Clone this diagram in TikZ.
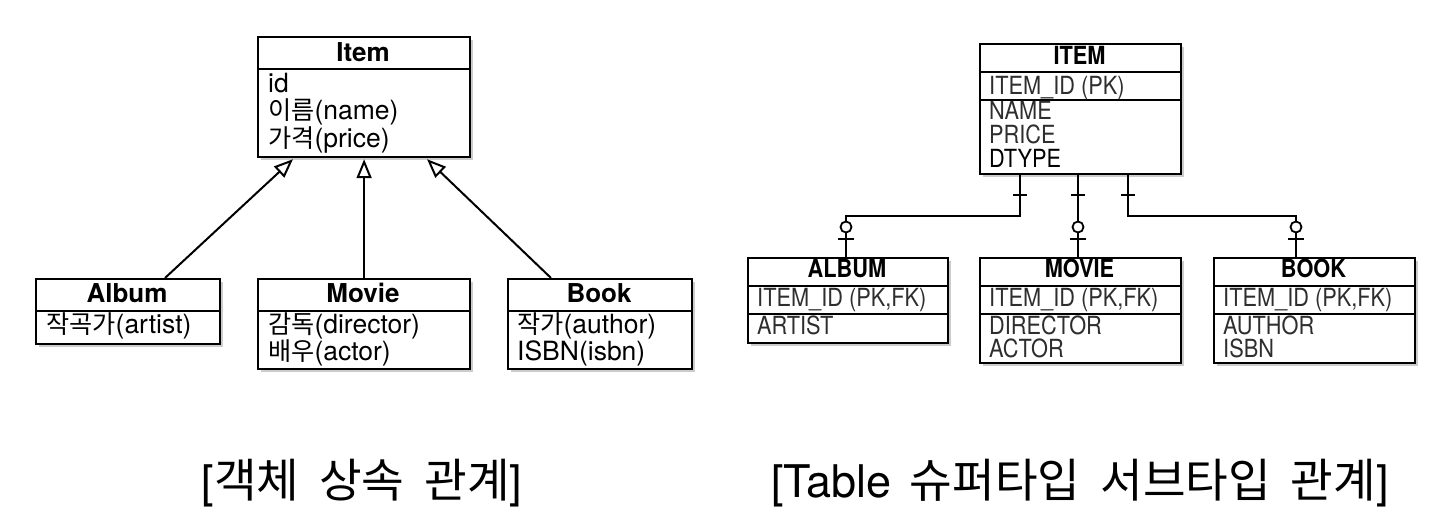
\documentclass[tikz,border=0pt]{standalone}
\usepackage{fontspec}
\setmainfont{TeX Gyre Heros}
\newfontfamily\kr[Scale=0.95]{Noto Sans CJK KR}
\newfontfamily\krc[Scale=1.03]{Noto Sans CJK KR}
\newfontfamily\erf[FakeStretch=0.87]{TeX Gyre Heros}
\usetikzlibrary{arrows.meta,shadows,calc}
\tikzset{
 box/.style={draw=black, line width=2.2pt, fill=white, anchor=north west, inner sep=0pt,
   drop shadow={shadow xshift=2.5pt, shadow yshift=-2.5pt, opacity=0.4, fill=black!50}},
 sepl/.style={line width=2.2pt},
 ttl/.style={font=\fontsize{26}{30}\selectfont\bfseries, anchor=base, inner sep=0pt},
 attr/.style={font=\fontsize{26.5}{28}\selectfont, anchor=base west, inner sep=0pt},
 ertl/.style={font=\erf\fontsize{25}{28}\selectfont\bfseries, anchor=base, inner sep=0pt},
 erat/.style={font=\erf\fontsize{25}{28}\selectfont, text=black!82, anchor=base west, inner sep=0pt},
 inh/.style={line width=2pt, -{Triangle[open, length=19pt, width=15pt, line width=2pt]}},
 rel/.style={line width=2pt},
 capt/.style={font=\fontsize{45}{50}\selectfont, anchor=base, inner sep=0pt}
}
\begin{document}
\begin{tikzpicture}[x=1pt,y=-1pt]
\useasboundingbox[fill=white] (0,0) rectangle (1449,526);

% ---------- left: object inheritance ----------
\node[box, minimum width=212pt, minimum height=120pt] (item) at (257,36) {};
\draw[sepl] ($(item.north west)+(0,33)$) -- ($(item.north east)+(0,33)$);
\node[ttl] (itemT) at (363,62) {Item};
\node[attr] (itemA1) at (268,93) {id};
\node[attr] (itemA2) at (268,120) {{\kr 이름}(name)};
\node[attr] (itemA3) at (268,148) {{\kr 가격}(price)};

\node[box, minimum width=184pt, minimum height=65pt] (album) at (35,278) {};
\draw[sepl] ($(album.north west)+(0,33)$) -- ($(album.north east)+(0,33)$);
\node[ttl] (albumT) at (127,303) {Album};
\node[attr] (albumA1) at (46,334) {{\kr 작곡가}(artist)};

\node[box, minimum width=212pt, minimum height=90pt] (movie) at (257,278) {};
\draw[sepl] ($(movie.north west)+(0,33)$) -- ($(movie.north east)+(0,33)$);
\node[ttl] (movieT) at (363,303) {Movie};
\node[attr] (movieA1) at (268,334) {{\kr 감독}(director)};
\node[attr] (movieA2) at (268,361) {{\kr 배우}(actor)};

\node[box, minimum width=184pt, minimum height=90pt] (book) at (507,278) {};
\draw[sepl] ($(book.north west)+(0,33)$) -- ($(book.north east)+(0,33)$);
\node[ttl] (bookT) at (599,303) {Book};
\node[attr] (bookA1) at (517,334) {{\kr 작가}(author)};
\node[attr] (bookA2) at (517,361) {ISBN(isbn)};

\draw[inh] ($(album.north west)+(130,0)$) -- ($(item.south west)+(36,1)$);
\draw[inh] (movie.north) -- ($(item.south)+(0,1)$);
\draw[inh] ($(book.north west)+(44,0)$) -- ($(item.south west)+(170,1)$);

% ---------- right: table super/sub type ----------
\node[box, minimum width=201pt, minimum height=130pt] (eitem) at (979,43) {};
\draw[sepl] ($(eitem.north west)+(0,29)$) -- ($(eitem.north east)+(0,29)$);
\draw[sepl] ($(eitem.north west)+(0,57)$) -- ($(eitem.north east)+(0,57)$);
\node[ertl] (eitemT) at (1079.5,65) {ITEM};
\node[erat] (eitemA1) at (989,95) {ITEM\_ID (PK)};
\node[erat] (eitemA2) at (989,120) {NAME};
\node[erat] (eitemA3) at (989,144) {PRICE};
\node[erat, text=black] (eitemA4) at (989,168) {DTYPE};

\node[box, minimum width=200pt, minimum height=85pt] (ealbum) at (747,257) {};
\draw[sepl] ($(ealbum.north west)+(0,29)$) -- ($(ealbum.north east)+(0,29)$);
\draw[sepl] ($(ealbum.north west)+(0,57)$) -- ($(ealbum.north east)+(0,57)$);
\node[ertl] (ealbumT) at (847,278) {ALBUM};
\node[erat] (ealbumA1) at (757,307) {ITEM\_ID (PK,FK)};
\node[erat] (ealbumA2) at (757,335) {ARTIST};

\node[box, minimum width=201pt, minimum height=105pt] (emovie) at (979,257) {};
\draw[sepl] ($(emovie.north west)+(0,29)$) -- ($(emovie.north east)+(0,29)$);
\draw[sepl] ($(emovie.north west)+(0,57)$) -- ($(emovie.north east)+(0,57)$);
\node[ertl] (emovieT) at (1079.5,278) {MOVIE};
\node[erat] (emovieA1) at (989,307) {ITEM\_ID (PK,FK)};
\node[erat] (emovieA2) at (989,335) {DIRECTOR};
\node[erat] (emovieA3) at (989,358) {ACTOR};

\node[box, minimum width=201pt, minimum height=105pt] (ebook) at (1213,257) {};
\draw[sepl] ($(ebook.north west)+(0,29)$) -- ($(ebook.north east)+(0,29)$);
\draw[sepl] ($(ebook.north west)+(0,57)$) -- ($(ebook.north east)+(0,57)$);
\node[ertl] (ebookT) at (1313.5,278) {BOOK};
\node[erat] (ebookA1) at (1223,307) {ITEM\_ID (PK,FK)};
\node[erat] (ebookA2) at (1223,335) {AUTHOR};
\node[erat] (ebookA3) at (1223,358) {ISBN};

% connector end points
\coordinate (pA) at ($(eitem.south west)+(41,0)$);
\coordinate (pM) at ($(eitem.south west)+(99,0)$);
\coordinate (pB) at ($(eitem.south west)+(149,0)$);
\coordinate (cA) at ($(ealbum.north west)+(99,0)$);
\coordinate (cM) at ($(emovie.north west)+(99,0)$);
\coordinate (cB) at ($(ebook.north west)+(83,0)$);

\draw[rel] (pA) -- ++(0,41) -| (cA);
\draw[rel] (pM) -- (cM);
\draw[rel] (pB) -- ++(0,41) -| (cB);

% one marks at parent side
\foreach \p in {pA,pM,pB}{
  \draw[rel] ($(\p)+(-7,20)$) -- ($(\p)+(7,20)$);
}
% zero-or-one marks at child side
\foreach \c in {cA,cM,cB}{
  \draw[rel] ($(\c)+(-8,-18)$) -- ($(\c)+(8,-18)$);
  \draw[line width=1.8pt, fill=white] ($(\c)+(0,-30)$) circle (5.5pt);
}

% ---------- captions ----------
\node[capt] (cap1) at (362,497) {[{\krc 객체}\hspace{20pt}{\krc 상속}\hspace{20pt}{\krc 관계}]};
\node[capt] (cap2) at (1080,497) {[Table\hspace{18pt}{\krc 슈퍼타입}\hspace{20pt}{\krc 서브타입}\hspace{20pt}{\krc 관계}]};
\end{tikzpicture}
\end{document}
